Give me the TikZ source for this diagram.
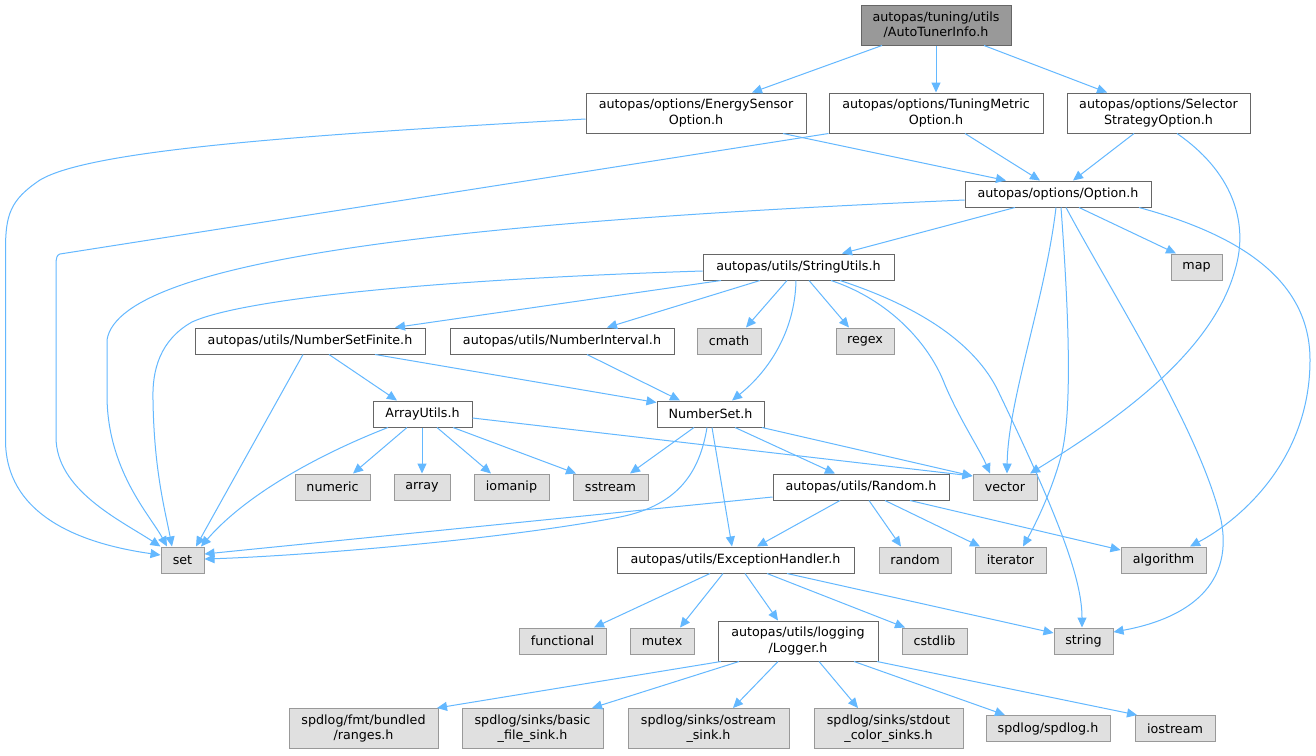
\documentclass[tikz,border=0pt]{standalone}
\usepackage{fontspec}
\setmainfont{DejaVu Sans}
\usetikzlibrary{arrows.meta}
\definecolor{edgec}{HTML}{63B8FF}
\definecolor{bordc}{HTML}{666666}
\definecolor{sysb}{HTML}{999999}
\definecolor{sysf}{HTML}{E0E0E0}
\definecolor{rootf}{HTML}{999999}
\begin{document}
\begin{tikzpicture}[x=1pt,y=-1pt,
  nd/.style={draw=bordc, fill=white, line width=1pt, inner sep=0pt, minimum height=26pt, align=center, font=\fontsize{12.7}{15.5}\selectfont, text=black},
  ndtwo/.style={nd, minimum height=40pt},
  sys/.style={nd, draw=sysb, fill=sysf},
  systwo/.style={sys, minimum height=40pt},
  rootbox/.style={ndtwo, fill=rootf},
  edge/.style={draw=edgec, line width=1pt, -{Triangle[length=10pt,width=9pt]}}
]
\useasboundingbox[fill=white] (0,0) rectangle (1316,755);

% nodes
\node[rootbox, minimum width=150pt] (root) at (936,25) {autopas/tuning/utils\\/AutoTunerInfo.h};
\node[ndtwo, minimum width=220pt] (es) at (696,113) {autopas/options/EnergySensor\\Option.h};
\node[ndtwo, minimum width=214pt] (tm) at (936,113) {autopas/options/TuningMetric\\Option.h};
\node[ndtwo, minimum width=183pt] (ss) at (1158.5,113) {autopas/options/Selector\\StrategyOption.h};
\node[nd, minimum width=186pt] (opt) at (1058,194) {autopas/options/Option.h};
\node[nd, minimum width=191pt] (su) at (798.5,267) {autopas/utils/StringUtils.h};
\node[sys, minimum width=51pt] (map) at (1196.5,267) {map};
\node[nd, minimum width=230pt] (nsf) at (310,341) {autopas/utils/NumberSetFinite.h};
\node[nd, minimum width=224pt] (ni) at (562,341) {autopas/utils/NumberInterval.h};
\node[sys, minimum width=64pt] (cmath) at (729,341) {cmath};
\node[sys, minimum width=58pt] (regex) at (865,341) {regex};
\node[nd, minimum width=99pt] (au) at (422.5,414) {ArrayUtils.h};
\node[nd, minimum width=107pt] (ns) at (710.5,414) {NumberSet.h};
\node[sys, minimum width=75pt] (numeric) at (332.5,487) {numeric};
\node[sys, minimum width=56pt] (array) at (422,487) {array};
\node[sys, minimum width=75pt] (iomanip) at (511.5,487) {iomanip};
\node[sys, minimum width=75pt] (sstream) at (610.5,487) {sstream};
\node[nd, minimum width=176pt] (rnd) at (861,487) {autopas/utils/Random.h};
\node[sys, minimum width=64pt] (vector) at (1005,487) {vector};
\node[sys, minimum width=43pt] (set) at (182.5,560) {set};
\node[nd, minimum width=237pt] (eh) at (735.5,560) {autopas/utils/ExceptionHandler.h};
\node[sys, minimum width=72pt] (random) at (915,560) {random};
\node[sys, minimum width=71pt] (iterator) at (1010.5,560) {iterator};
\node[sys, minimum width=85pt] (algorithm) at (1163.5,560) {algorithm};
\node[sys, minimum width=87pt] (functional) at (562.5,641) {functional};
\node[sys, minimum width=64pt] (mutex) at (662,641) {mutex};
\node[ndtwo, minimum width=160pt] (logger) at (798,641) {autopas/utils/logging\\/Logger.h};
\node[sys, minimum width=65pt] (cstdlib) at (934.5,641) {cstdlib};
\node[sys, minimum width=59pt] (string) at (1083.5,641) {string};
\node[systwo, minimum width=149pt] (ranges) at (363.5,728.5) {spdlog/fmt/bundled\\/ranges.h};
\node[systwo, minimum width=141pt] (bfs) at (532.5,728.5) {spdlog/sinks/basic\\\_file\_sink.h};
\node[systwo, minimum width=161pt] (oss) at (708.5,728.5) {spdlog/sinks/ostream\\\_sink.h};
\node[systwo, minimum width=149pt] (scs) at (888.5,728.5) {spdlog/sinks/stdout\\\_color\_sinks.h};
\node[sys, minimum width=124pt] (spd) at (1048,728.5) {spdlog/spdlog.h};
\node[sys, minimum width=80pt] (iostream) at (1175,728.5) {iostream};

% edges from root
\draw[edge] (root.south -| 882,0) -- (es.north -| 752,0);
\draw[edge] (root.south -| 936,0) -- (tm.north -| 936,0);
\draw[edge] (root.south -| 984,0) -- (ss.north -| 1107,0);
% option headers
\draw[edge] (es.south -| 783,0) -- (opt.north -| 1006,0);
\draw[edge] (tm.south -| 965,0) -- (opt.north -| 1040,0);
\draw[edge] (ss.south -| 1134,0) -- (opt.north -| 1073,0);
\draw[edge] (es.west |- 0,119) .. controls (300,135) and (90,150) .. (40,180) .. controls (10,200) and (5.5,215) .. (5.5,250) -- (5.5,440) .. controls (5.5,520) and (90,545) .. (set.west |- 0,555);
\draw[edge] (tm.south west) -- (60,254) .. controls (57,255) and (56,257) .. (56,266) -- (56,437) .. controls (56,490) and (120,520) .. (set.north west);
\draw[edge] (ss.south -| 1177,0) .. controls (1230,170) and (1250,220) .. (1235,270) .. controls (1210,360) and (1100,430) .. (vector.north -| 1030,0);
% Option.h
\draw[edge] (opt.south -| 1015,0) -- (su.north -| 842,0);
\draw[edge] (opt.south -| 1079,0) -- (map.north -| 1176,0);
\draw[edge] (opt.west |- 0,200) .. controls (500,220) and (120,255) .. (107,340) -- (107,395) .. controls (107,470) and (150,515) .. (set.north -| 167,0);
\draw[edge] (opt.south -| 1056,0) .. controls (1045,300) and (1008,400) .. (vector.north -| 1007,0);
\draw[edge] (opt.south -| 1061,0) .. controls (1070,330) and (1072,420) .. (1060,460) .. controls (1050,495) and (1035,525) .. (iterator.north -| 1023,0);
\draw[edge] (opt.south -| 1066,0) .. controls (1110,290) and (1200,430) .. (1221,520) .. controls (1235,590) and (1180,620) .. (string.east |- 0,632);
\draw[edge] (opt.south -| 1139,0) .. controls (1240,235) and (1310,280) .. (1310,360) .. controls (1310,460) and (1240,520) .. (algorithm.north -| 1190,0);
% StringUtils
\draw[edge] (su.south -| 721,0) -- (nsf.north -| 395,0);
\draw[edge] (su.south -| 760,0) -- (ni.north -| 607,0);
\draw[edge] (su.south -| 787,0) -- (cmath.north -| 746,0);
\draw[edge] (su.south -| 809,0) -- (regex.north -| 849,0);
\draw[edge] (su.west |- 0,271) .. controls (420,280) and (240,300) .. (192,322) .. controls (160,340) and (152,370) .. (153,400) .. controls (154,470) and (165,510) .. (set.north -| 172,0);
\draw[edge] (su.south -| 796,0) .. controls (795,330) and (770,370) .. (ns.north -| 732,0);
\draw[edge] (su.south -| 831,0) .. controls (890,300) and (930,345) .. (945,385) .. controls (960,420) and (980,450) .. (vector.north -| 990,0);
\draw[edge] (su.south -| 840,0) .. controls (930,310) and (980,350) .. (1000,395) .. controls (1060,520) and (1082,580) .. (string.north -| 1082,0);
% NumberSetFinite / NumberInterval
\draw[edge] (nsf.south -| 303,0) -- (set.north -| 196,0);
\draw[edge] (nsf.south -| 329,0) -- (au.north -| 397,0);
\draw[edge] (nsf.south -| 375,0) -- ([yshift=-2pt]ns.north west);
\draw[edge] (ni.south -| 587,0) -- (ns.north -| 680,0);
% ArrayUtils
\draw[edge] (au.south -| 388,0) .. controls (330,450) and (250,490) .. (set.north -| 201,0);
\draw[edge] (au.south -| 407,0) -- (numeric.north -| 353,0);
\draw[edge] (au.south -| 422,0) -- (array.north -| 422,0);
\draw[edge] (au.south -| 437,0) -- (iomanip.north -| 491,0);
\draw[edge] (au.south -| 453,0) -- (sstream.north -| 576,0);
\draw[edge] (au.east |- 0,418) -- (vector.west |- 0,476);
% NumberSet
\draw[edge] (ns.south -| 694,0) -- (sstream.north -| 630,0);
\draw[edge] (ns.south -| 707,0) .. controls (700,470) and (680,505) .. (620,517) .. controls (500,540) and (300,556) .. (set.east |- 0,559);
\draw[edge] (ns.south -| 712,0) -- (eh.north -| 732,0);
\draw[edge] (ns.south -| 735,0) -- (rnd.north -| 835,0);
\draw[edge] (ns.south -| 762,0) -- (vector.west |- 0,476);
% Random
\draw[edge] (rnd.west |- 0,497) -- (set.east |- 0,554);
\draw[edge] (rnd.south -| 840,0) -- (eh.north -| 757,0);
\draw[edge] (rnd.south -| 869,0) -- (random.north -| 901,0);
\draw[edge] (rnd.south -| 885,0) -- (iterator.north -| 980,0);
\draw[edge] (rnd.south -| 910,0) -- (algorithm.west |- 0,550);
% ExceptionHandler
\draw[edge] (eh.south -| 710,0) -- (functional.north -| 594,0);
\draw[edge] (eh.south -| 723,0) -- (mutex.north -| 680,0);
\draw[edge] (eh.south -| 745,0) -- (logger.north -| 778,0);
\draw[edge] (eh.south -| 767,0) -- (cstdlib.north -| 905,0);
\draw[edge] (eh.south -| 787,0) -- (string.west |- 0,633);
% Logger
\draw[edge] (logger.south -| 721,0) -- (ranges.north -| 437,0);
\draw[edge] (logger.south -| 739,0) -- (bfs.north -| 592,0);
\draw[edge] (logger.south -| 778,0) -- (oss.north -| 733,0);
\draw[edge] (logger.south -| 819,0) -- (scs.north -| 858,0);
\draw[edge] (logger.south -| 854,0) -- (spd.north -| 1005,0);
\draw[edge] (logger.south -| 877,0) -- (iostream.north -| 1137,0);
\end{tikzpicture}
\end{document}
